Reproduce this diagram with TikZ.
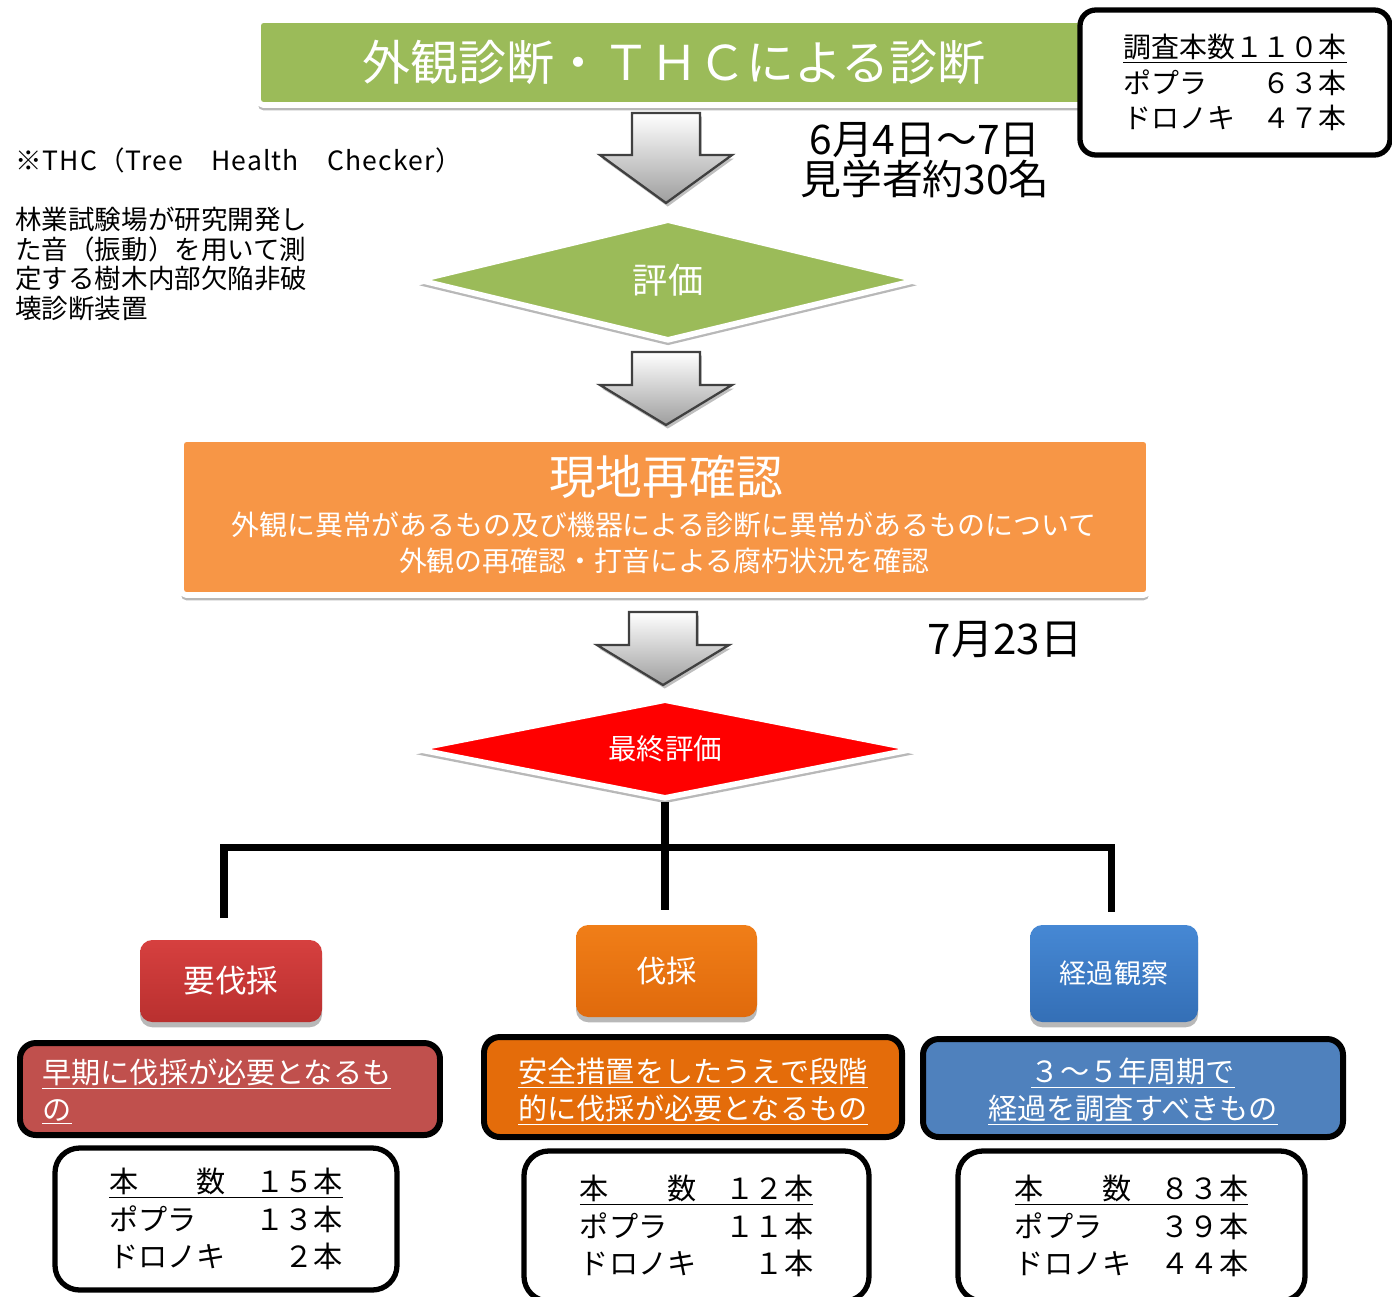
\documentclass[tikz,border=0pt]{standalone}
\usepackage{fontspec}
\setmainfont{Noto Sans CJK JP}
\usetikzlibrary{shapes.geometric,shadows}

\definecolor{cgreen}{HTML}{9BBB59}
\definecolor{corange}{HTML}{F79646}
\definecolor{cred}{HTML}{FF0000}
\definecolor{btnred}{HTML}{B9302F}
\definecolor{btnredlt}{HTML}{D6403F}
\definecolor{btnorange}{HTML}{E06A0C}
\definecolor{btnorangelt}{HTML}{F07E18}
\definecolor{btnblue}{HTML}{346FB6}
\definecolor{btnbluelt}{HTML}{4688D4}
\definecolor{dred}{HTML}{C0504D}
\definecolor{dorange}{HTML}{E46C0A}
\definecolor{dblue}{HTML}{4F81BD}

\newcommand\blockarrow[4]{% x centre, top, head base, tip
  \draw[blockarr] (#1-34,#2) -- (#1+34,#2) -- (#1+34,#3) -- (#1+66,#3) -- (#1,#4)
    -- (#1-66,#3) -- (#1-34,#3) -- cycle;}

\tikzset{
  wh/.style 2 args={minimum width=#1*0.02cm, minimum height=#2*0.02cm},
  shd/.style={drop shadow={shadow xshift=0pt, shadow yshift=-3pt, opacity=0.28, fill=black}},
  bigbox/.style={draw=white, line width=3.2pt, rounded corners=3pt, shd, inner sep=0pt},
  dia/.style={diamond, draw=white, line width=3.2pt, shd, inner sep=0pt},
  sumbox/.style={draw=black, line width=3pt, rounded corners=9pt, fill=white, inner sep=0pt, align=left},
  blockarr/.style={draw=black!75, line width=1.3pt, top color=white, bottom color=black!38, line join=miter,
    drop shadow={shadow xshift=1pt, shadow yshift=-2pt, opacity=0.25, fill=black}},
  tree/.style={draw=black, line width=4pt, line join=miter},
  btn/.style={rounded corners=7pt, inner sep=0pt, text=white, shd},
  desc/.style={draw=black, line width=3.4pt, rounded corners=9pt, inner sep=0pt},
  desctext/.style={inner sep=0pt, text=white, align=center, font=\fontsize{16.6pt}{21pt}\selectfont},
  cnt/.style={draw=black, line width=3pt, rounded corners=14pt, fill=white, inner sep=0pt, align=left,
    font=\fontsize{16.6pt}{21.3pt}\selectfont},
  plain/.style={inner sep=0pt}
}

\begin{document}
\begin{tikzpicture}[x=0.02cm, y=-0.02cm]
\useasboundingbox[fill=white] (0,0) rectangle (1392,1296);

% top box
\node[bigbox, fill=cgreen, wh={832}{85}, text=white, font=\fontsize{27.3pt}{30pt}\selectfont] (diag) at (674,62.5) {外観診断・ＴＨＣによる診断};

% summary box
\node[sumbox, wh={310}{145}, font=\fontsize{15.9pt}{20.4pt}\selectfont] (sum) at (1235,82.5)
  {\underline{調査本数１１０本}\\ポプラ　　６３本\\ドロノキ　４７本};

% note
\node[plain, anchor=west, font=\fontsize{15.1pt}{17pt}\selectfont\addfontfeature{LetterSpace=4}] (thc) at (15,160) {※THC（Tree　Health　Checker）};
\node[plain, anchor=west, align=left, font=\fontsize{15.1pt}{17pt}\selectfont] (thcdesc) at (15,264)
  {林業試験場が研究開発し\\た音（振動）を用いて測\\定する樹木内部欠陥非破\\壊診断装置};

% arrow 1 and date
\blockarrow{666}{113}{155}{203}
\node[plain, align=center, font=\fontsize{23.2pt}{22.7pt}\selectfont] (date1) at (925,160) {6月4日～7日\\見学者約30名};

% evaluation diamond
\node[dia, fill=cgreen, wh={500}{122}, aspect=4.1, text=white, font=\fontsize{20pt}{22pt}\selectfont] (eval) at (668,280) {評価};

% arrow 2
\blockarrow{666}{352}{385}{425}

% recheck box
\node[bigbox, fill=corange, wh={968}{156}] (recheck) at (665,517) {};
\node[plain, text=white, font=\fontsize{26.6pt}{28pt}\selectfont] (rt1) at (666,477) {現地再確認};
\node[plain, text=white, align=center, font=\fontsize{15.9pt}{20.4pt}\selectfont] (rt2) at (664,543)
  {外観に異常があるもの及び機器による診断に異常があるものについて\\外観の再確認・打音による腐朽状況を確認};

% arrow 3 and date
\blockarrow{663}{612}{645}{685}
\node[plain, font=\fontsize{24pt}{24pt}\selectfont] (date2) at (1005,640) {7月23日};

% final diamond
\node[dia, fill=cred, wh={500}{100}, aspect=5, text=white, font=\fontsize{16.2pt}{18pt}\selectfont] (final) at (665,749) {最終評価};

% tree
\coordinate (hub) at (665,847);
\coordinate (lend) at (224,918);
\coordinate (mend) at (665,910);
\coordinate (rend) at (1111,912);
\draw[tree] (final.south) -- (mend);
\draw[tree] (lend) |- (hub) -| (rend);

% buttons
\node[btn, top color=btnredlt, bottom color=btnred, wh={182}{82}, font=\fontsize{18pt}{20pt}\selectfont] (cutreq) at (231,981) {要伐採};
\node[btn, top color=btnorangelt, bottom color=btnorange, wh={181}{92}, font=\fontsize{17.3pt}{20pt}\selectfont] (cut) at (666.5,971) {伐採};
\node[btn, top color=btnbluelt, bottom color=btnblue, wh={168}{97}, font=\fontsize{15.4pt}{18pt}\selectfont] (watch) at (1114,973.5) {経過観察};

% descriptions
\node[desc, fill=dred, wh={420}{92}] (d1) at (230,1089) {};
\node[desctext, anchor=west, align=left] (d1t) at (42,1091.5)
  {\underline{早期に伐採が必要となるも}\\\underline{の}};
\node[desc, fill=dorange, wh={418}{100}] (d2) at (693,1087) {};
\node[desctext] (d2t) at (693,1091.5)
  {\underline{安全措置をしたうえで段階}\\\underline{的に伐採が必要となるもの}};
\node[desc, fill=dblue, wh={420}{98}] (d3) at (1133,1088) {};
\node[desctext] (d3t) at (1133,1092)
  {\underline{３～５年周期で}\\\underline{経過を調査すべきもの}};

% counts
\node[cnt, wh={342}{142}] (c1) at (226,1219) {\underline{本　　数　１５本}\\ポプラ　　１３本\\ドロノキ　　２本};
\node[cnt, wh={345}{150}] (c2) at (696.5,1226) {\underline{本　　数　１２本}\\ポプラ　　１１本\\ドロノキ　　１本};
\node[cnt, wh={347}{150}] (c3) at (1131.5,1226) {\underline{本　　数　８３本}\\ポプラ　　３９本\\ドロノキ　４４本};
\end{tikzpicture}
\end{document}
